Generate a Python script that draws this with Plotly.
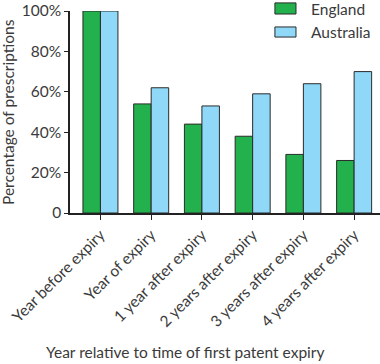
import plotly.graph_objects as go

categories = ["Year before expiry", "Year of expiry", "1 year after expiry",
              "2 years after expiry", "3 years after expiry", "4 years after expiry"]
england = [100, 54, 44, 38, 29, 26]
australia = [100, 62, 53, 59, 64, 70]
series_names = ["England", "Australia"]
series_colors = ["#22b14c", "#8fd8f8"]
y_ticks = [0, 20, 40, 60, 80, 100]
y_tick_labels = ["0", "20%", "40%", "60%", "80%", "100%"]

font_family = "Lato, Noto Sans, sans-serif"
text_color = "#3a3a3a"
edge = "#2b2b2b"
fs = 15.5

fig = go.Figure()
for name, vals, col in zip(series_names, [england, australia], series_colors):
    fig.add_trace(go.Bar(name=name, x=categories, y=vals, showlegend=False,
                         marker=dict(color=col, line=dict(color=edge, width=1))))

# manual legend (swatch + label), placed top-right like the reference
shapes, annotations = [], []
legend_rows = [(1.04, 0.985, 1.012), (0.921, 0.871, 0.896)]
for (name, col), (ytop, ybot, ymid) in zip(zip(series_names, series_colors), legend_rows):
    shapes.append(dict(type="rect", xref="paper", yref="paper", x0=0.661, x1=0.729,
                       y0=ybot, y1=ytop, fillcolor=col, line=dict(color=edge, width=1)))
    annotations.append(dict(text=name, xref="paper", yref="paper", x=0.77, y=ymid,
                            xanchor="left", yanchor="middle", showarrow=False,
                            font=dict(size=fs, color=text_color)))

annotations += [
    dict(text="Year relative to time of first patent expiry", xref="paper", yref="paper",
         x=0.371, y=-0.69, xanchor="center", yanchor="middle", showarrow=False,
         font=dict(size=fs, color=text_color)),
    dict(text="Percentage of prescriptions", xref="paper", yref="paper",
         x=-0.2, y=0.5, xanchor="center", yanchor="middle", textangle=-90,
         showarrow=False, font=dict(size=fs, color=text_color)),
]

fig.update_layout(
    width=380, height=364,
    margin=dict(l=70, r=0, t=11, b=151),
    paper_bgcolor="white", plot_bgcolor="white",
    barmode="group", bargap=0.31, bargroupgap=0,
    font=dict(family=font_family, size=fs, color=text_color),
    showlegend=False,
    xaxis=dict(range=[-0.6, 5.51], showline=True, linecolor="#222222", linewidth=1.5,
               ticks="outside", ticklen=5, tickcolor="#222222", tickangle=-45,
               showgrid=False, zeroline=False, automargin=False),
    yaxis=dict(range=[0, 100], showline=True, linecolor="#222222", linewidth=1.5,
               ticks="outside", ticklen=4, tickcolor="#222222",
               tickvals=y_ticks, ticktext=y_tick_labels, showgrid=False, zeroline=False,
               automargin=False),
    shapes=shapes,
    annotations=annotations,
)

# remove the browser's default page margin so the figure sits at the window's corner
fig.write_html("out.html", config={"displayModeBar": False},
               post_script="document.body.style.margin='0';")
